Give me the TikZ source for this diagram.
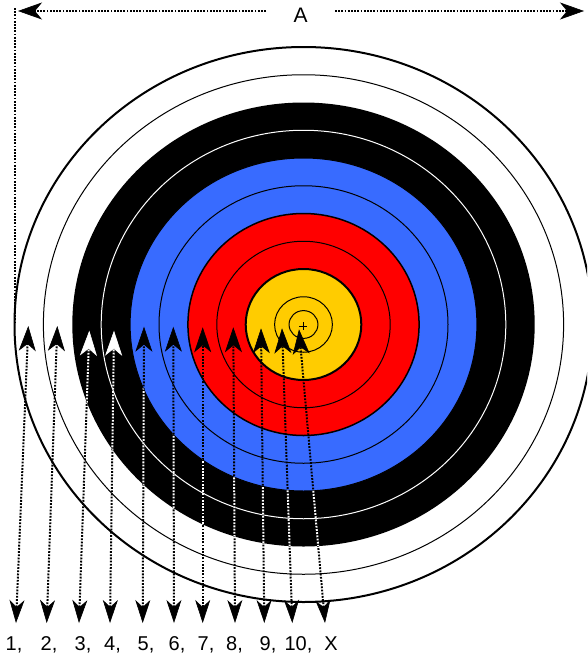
\documentclass[tikz,border=0pt]{standalone}
\usepackage{fontspec}
\setmainfont{Liberation Sans}
\usetikzlibrary{arrows.meta}
\definecolor{tgold}{RGB}{255,204,0}
\definecolor{tred}{RGB}{255,0,0}
\definecolor{tblue}{RGB}{56,107,255}
\begin{document}
\begin{tikzpicture}[x=1pt,y=-1pt,
  dots/.style={line width=2pt, dash pattern=on 1.8pt off 1.4pt},
  uptip/.style={-{Stealth[length=24pt,width=17pt,inset=7pt,line width=0.6pt]}},
  dnup/.style={{Stealth[length=23pt,width=15pt,inset=7pt,line width=0.6pt]}-{Stealth[length=25pt,width=17pt,inset=7pt,line width=0.6pt]}},
  lab/.style={anchor=base, inner sep=0pt, font=\fontsize{20}{24}\selectfont},
  thinring/.style={line width=1pt}
]
\useasboundingbox (0,0) rectangle (587,656);
\clip (0,0) rectangle (587,656);
\coordinate (c) at (303.5,324.5);
% target faces
\fill[white] (0,0) rectangle (587,656);
\filldraw[fill=white, draw=black, line width=2pt] (c) ellipse [x radius=289pt, y radius=277.5pt];
\draw[thinring, black] (c) ellipse [x radius=260.1pt, y radius=249.75pt];
\fill[black] (c) ellipse [x radius=231.2pt, y radius=222pt];
\draw[thinring, white] (c) ellipse [x radius=202.3pt, y radius=194.25pt];
\filldraw[fill=tblue, draw=black, line width=1pt] (c) ellipse [x radius=173.4pt, y radius=166.5pt];
\draw[thinring, black] (c) ellipse [x radius=144.5pt, y radius=138.75pt];
\filldraw[fill=tred, draw=black, line width=1.5pt] (c) ellipse [x radius=115.6pt, y radius=111pt];
\draw[thinring, black] (c) ellipse [x radius=86.7pt, y radius=83.25pt];
\filldraw[fill=tgold, draw=black, line width=2pt] (c) ellipse [x radius=57.8pt, y radius=55.5pt];
\draw[thinring, black] (c) ellipse [x radius=28.9pt, y radius=27.75pt];
\draw[thinring, black] (c) ellipse [x radius=14.45pt, y radius=13.9pt];
\draw[line width=0.8pt] (299,326) -- (307,326) (303,322) -- (303,330);
% dimension A
\node[lab, anchor=center, font=\fontsize{21}{25}\selectfont] (A) at (300.5,15) {A};
\coordinate (aL) at (18,11);
\coordinate (aR) at (584,11);
\coordinate (aLe) at (266,11);
\coordinate (aRe) at (335,11);
\draw[dots, uptip] (aLe) -- (aL);
\draw[dots, uptip] (aRe) -- (aR);
\coordinate (v1) at (14.5,8);
\coordinate (v2) at (14.5,322);
\draw[dots] (v1) -- (v2);
% arrows
\foreach \n/\ux/\uy/\dx/\lx/\lb in {
  1/28.3/326/16/14/{1,},
  2/57.3/326/46.7/49/{2,},
  3/89.3/330.7/79/83/{3,},
  4/114/330.7/110/112.5/{4,},
  5/144/326.7/142.7/146/{5,},
  6/173.3/326.7/174/177/{6,},
  7/202.7/327.3/202.7/206/{7,},
  8/233.3/327.3/235/234.5/{8,},
  9/261/328.3/264.3/268/{9,},
  10/282/328.3/292.3/298.5/{10,},
  X/299/329.3/325/331/X}{
  \coordinate (u\n) at (\ux,\uy);
  \coordinate (d\n) at (\dx,623);
  \node[lab] (l\n) at (\lx,650) {\lb};
  \draw[dots, dnup] (d\n) -- (u\n);
}
% white parts within the black rings
\begin{scope}[even odd rule]
  \clip (c) ellipse [x radius=231.2pt, y radius=222pt] (c) ellipse [x radius=173.4pt, y radius=166.5pt];
  \foreach \n in {1,2,3,4,5,6,7,8,9,10,X}{
    \draw[dots, dnup, white] (d\n) -- (u\n);
  }
\end{scope}
\end{tikzpicture}
\end{document}
